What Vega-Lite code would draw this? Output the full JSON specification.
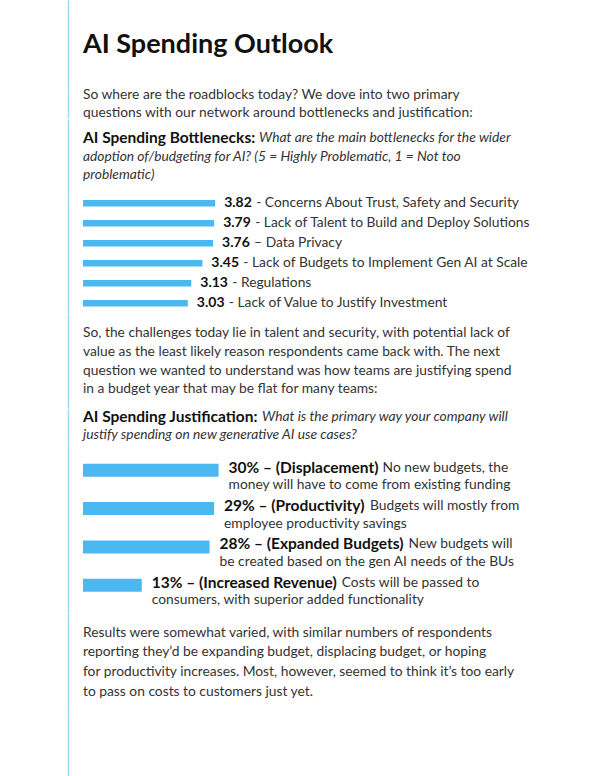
{
  "$schema": "https://vega.github.io/schema/vega-lite/v6.json",
  "background": "white",
  "padding": {"left": 68, "top": 0, "right": 0, "bottom": 0},
  "spacing": 0,
  "bounds": "flush",
  "config": {
    "view": {"stroke": null},
    "axisY": {"domainColor": "#a6d7ee", "domainWidth": 1.5, "ticks": false, "labels": false, "grid": false, "offset": 15},
    "text": {"font": "Lato", "fontSize": 13.8, "color": "#333333", "align": "left", "baseline": "middle"}
  },
  "datasets": {
    "title": [{"line": 1, "text": "AI Spending Outlook"}],
    "intro": [
      {"line": 1, "text": "So where are the roadblocks today? We dove into two primary"},
      {"line": 2, "text": "questions with our network around bottlenecks and justification:"}
    ],
    "q1": [
      {"line": 1, "part": "lead", "text": "AI Spending Bottlenecks:"},
      {"line": 1, "part": "cont", "text": "What are the main bottlenecks for the wider"},
      {"line": 2, "part": "body", "text": "adoption of/budgeting for AI? (5 = Highly Problematic, 1 = Not too"},
      {"line": 3, "part": "body", "text": "problematic)"}
    ],
    "bottlenecks": [
      {"score": 3.82, "issue": "- Concerns About Trust, Safety and Security"},
      {"score": 3.79, "issue": "- Lack of Talent to Build and Deploy Solutions"},
      {"score": 3.76, "issue": "– Data Privacy"},
      {"score": 3.45, "issue": "- Lack of Budgets to Implement Gen AI at Scale"},
      {"score": 3.13, "issue": "- Regulations"},
      {"score": 3.03, "issue": "- Lack of Value to Justify Investment"}
    ],
    "para": [
      {"line": 1, "text": "So, the challenges today lie in talent and security, with potential lack of"},
      {"line": 2, "text": "value as the least likely reason respondents came back with. The next"},
      {"line": 3, "text": "question we wanted to understand was how teams are justifying spend"},
      {"line": 4, "text": "in a budget year that may be flat for many teams:"}
    ],
    "q2": [
      {"line": 1, "part": "lead", "text": "AI Spending Justification:"},
      {"line": 1, "part": "cont", "text": "What is the primary way your company will"},
      {"line": 2, "part": "body", "text": "justify spending on new generative AI use cases?"}
    ],
    "justification": [
      {"pct": 30, "label": "30% – (Displacement)", "rest": "No new budgets, the", "line2": "money will have to come from existing funding"},
      {"pct": 29, "label": "29% – (Productivity)", "rest": "Budgets will mostly from", "line2": "employee productivity savings"},
      {"pct": 28, "label": "28% – (Expanded Budgets)", "rest": "New budgets will", "line2": "be created based on the gen AI needs of the BUs"},
      {"pct": 13, "label": "13% – (Increased Revenue)", "rest": "Costs will be passed to", "line2": "consumers, with superior added functionality"}
    ],
    "closing": [
      {"line": 1, "text": "Results were somewhat varied, with similar numbers of respondents"},
      {"line": 2, "text": "reporting they’d be expanding budget, displacing budget, or hoping"},
      {"line": 3, "text": "for productivity increases. Most, however, seemed to think it’s too early"},
      {"line": 4, "text": "to pass on costs to customers just yet."}
    ]
  },
  "vconcat": [
    {
      "width": 440, "height": 90,
      "data": {"name": "title"},
      "mark": {"type": "text", "fontSize": 27, "fontWeight": "bold", "color": "#111111"},
      "encoding": {
        "y": {"field": "line", "type": "ordinal", "axis": {"title": null}, "scale": {"padding": 0.5}},
        "x": {"datum": 0, "type": "quantitative", "scale": {"domain": [0, 1]}, "axis": null},
        "text": {"field": "text"}
      }
    },
    {
      "width": 440, "height": 28.1,
      "data": {"name": "intro"},
      "mark": {"type": "text"},
      "encoding": {
        "y": {"field": "line", "type": "ordinal", "axis": {"title": null}, "scale": {"padding": 0.294}},
        "x": {"datum": 0, "type": "quantitative", "scale": {"domain": [0, 1]}, "axis": null},
        "text": {"field": "text"}
      }
    },
    {
      "width": 440, "height": 73.9,
      "data": {"name": "q1"},
      "encoding": {
        "y": {"field": "line", "type": "ordinal", "axis": {"title": null}, "scale": {"padding": 1.0876, "align": 0.517}},
        "x": {"datum": 0, "type": "quantitative", "scale": {"domain": [0, 1]}, "axis": null},
        "text": {"field": "text"}
      },
      "layer": [
        {"transform": [{"filter": "datum.part === 'lead'"}], "mark": {"type": "text", "fontSize": 15.5, "fontWeight": "bold", "color": "#111111"}},
        {"transform": [{"filter": "datum.part === 'cont'"}], "mark": {"type": "text", "fontStyle": "italic", "dx": 176}},
        {"transform": [{"filter": "datum.part === 'body'"}], "mark": {"type": "text", "fontStyle": "italic"}}
      ]
    },
    {
      "width": 138.4, "height": 120.6,
      "data": {"name": "bottlenecks"},
      "encoding": {
        "y": {"field": "issue", "type": "nominal", "sort": null, "axis": {"title": null}, "scale": {"paddingInner": 0, "paddingOuter": 0.015}},
        "x": {"field": "score", "type": "quantitative", "scale": {"domain": [0, 4]}, "axis": null}
      },
      "layer": [
        {"mark": {"type": "bar", "size": 6.5, "color": "#4cb8f1"}},
        {"mark": {"type": "text", "fontSize": 14, "fontWeight": "bold", "color": "#111111", "dx": 9},
         "encoding": {"text": {"field": "score", "type": "quantitative", "format": ".2f"}}},
        {"mark": {"type": "text", "dx": 41},
         "encoding": {"text": {"field": "issue"}}}
      ]
    },
    {
      "width": 440, "height": 94.2,
      "data": {"name": "para"},
      "mark": {"type": "text"},
      "encoding": {
        "y": {"field": "line", "type": "ordinal", "axis": {"title": null}, "scale": {"padding": 1.146}},
        "x": {"datum": 0, "type": "quantitative", "scale": {"domain": [0, 1]}, "axis": null},
        "text": {"field": "text"}
      }
    },
    {
      "width": 440, "height": 33.4,
      "data": {"name": "q2"},
      "encoding": {
        "y": {"field": "line", "type": "ordinal", "axis": {"title": null}, "scale": {"padding": 0.428}},
        "x": {"datum": 0, "type": "quantitative", "scale": {"domain": [0, 1]}, "axis": null},
        "text": {"field": "text"}
      },
      "layer": [
        {"transform": [{"filter": "datum.part === 'lead'"}], "mark": {"type": "text", "fontSize": 15.5, "fontWeight": "bold", "color": "#111111"}},
        {"transform": [{"filter": "datum.part === 'cont'"}], "mark": {"type": "text", "fontStyle": "italic", "dx": 179}},
        {"transform": [{"filter": "datum.part === 'body'"}], "mark": {"type": "text", "fontStyle": "italic"}}
      ]
    },
    {
      "width": 135.6, "height": 169.5,
      "data": {"name": "justification"},
      "encoding": {
        "y": {"field": "label", "type": "nominal", "sort": null, "axis": {"title": null}, "scale": {"paddingInner": 0, "paddingOuter": 0.215}},
        "x": {"field": "pct", "type": "quantitative", "scale": {"domain": [0, 30]}, "axis": null}
      },
      "layer": [
        {"mark": {"type": "bar", "size": 13, "color": "#4cb8f1"}},
        {"mark": {"type": "text", "fontSize": 15.5, "fontWeight": "bold", "color": "#111111", "dx": 10, "dy": -2.5},
         "encoding": {"text": {"field": "label"}}},
        {"transform": [{"filter": "datum.pct === 30"}],
         "mark": {"type": "text", "dx": 164, "dy": -2.5},
         "encoding": {"text": {"field": "rest"}}},
        {"transform": [{"filter": "datum.pct === 29"}],
         "mark": {"type": "text", "dx": 156, "dy": -2.5},
         "encoding": {"text": {"field": "rest"}}},
        {"transform": [{"filter": "datum.pct === 28"}],
         "mark": {"type": "text", "dx": 199, "dy": -2.5},
         "encoding": {"text": {"field": "rest"}}},
        {"transform": [{"filter": "datum.pct === 13"}],
         "mark": {"type": "text", "dx": 200, "dy": -2.5},
         "encoding": {"text": {"field": "rest"}}},
        {"mark": {"type": "text", "dx": 10, "dy": 15},
         "encoding": {"text": {"field": "line2"}}}
      ]
    },
    {
      "width": 440, "height": 98.7,
      "data": {"name": "closing"},
      "mark": {"type": "text"},
      "encoding": {
        "y": {"field": "line", "type": "ordinal", "axis": {"title": null}, "scale": {"padding": 1.288}},
        "x": {"datum": 0, "type": "quantitative", "scale": {"domain": [0, 1]}, "axis": null},
        "text": {"field": "text"}
      }
    },
    {
      "width": 440, "height": 67.6,
      "data": {"values": [{}]},
      "mark": {"type": "text"},
      "encoding": {
        "y": {"datum": 0, "type": "quantitative", "axis": {"title": null}},
        "text": {"value": ""}
      }
    }
  ]
}
